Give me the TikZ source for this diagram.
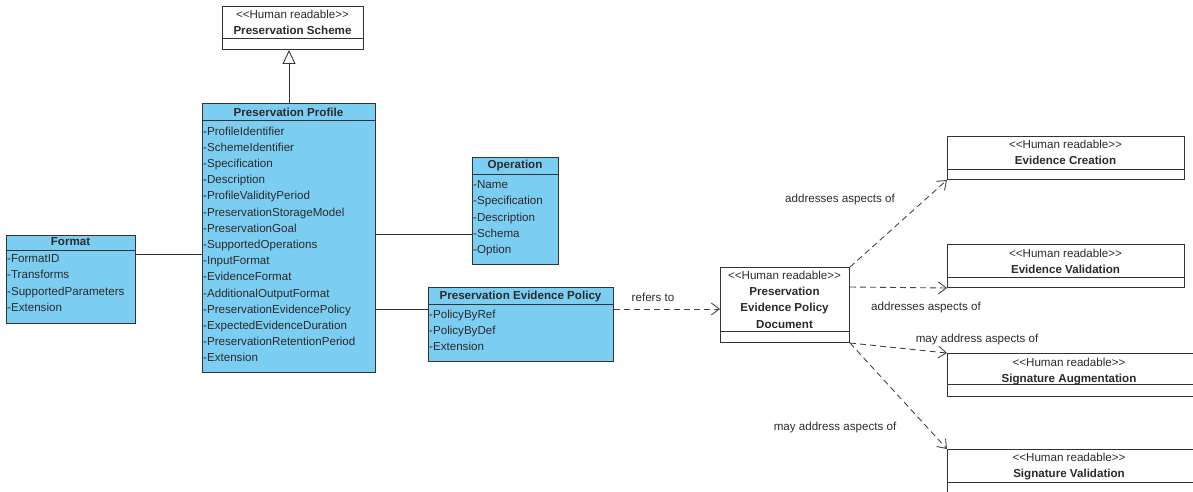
\documentclass[tikz,border=0pt]{standalone}
\usepackage{fontspec}
\setmainfont{Liberation Sans}
\usepackage{xcolor}
\usepackage{tikz}
\usetikzlibrary{arrows.meta}
\definecolor{clsfill}{HTML}{7BCDF1}
\definecolor{edge}{HTML}{333333}
\definecolor{ink}{HTML}{2B2B2B}
\definecolor{dashc}{HTML}{444444}
\newcommand{\hrstereo}{<{}<Human readable>{}>}
\tikzset{
  cls/.style={draw=edge, fill=clsfill, line width=1pt, inner sep=0pt, anchor=north west},
  doc/.style={draw=edge, fill=white, line width=1pt, inner sep=0pt, anchor=north west},
  compline/.style={draw=edge, line width=1pt},
  hdr/.style={text=ink, font=\fontsize{11.6}{13}\selectfont\bfseries, inner sep=0pt},
  attrs/.style={text=ink, font=\fontsize{11.6}{16.2}\selectfont, align=left, inner sep=0pt, anchor=north west},
  stereo/.style={text=ink, font=\fontsize{11.6}{16.3}\selectfont, align=center, inner sep=0pt, anchor=north},
  assoc/.style={draw=edge, line width=0.9pt},
  gen/.style={draw=edge, line width=0.9pt, -{Triangle[open, length=14pt, width=13pt]}},
  dep/.style={draw=dashc, line width=0.9pt, dash pattern=on 6pt off 4pt, -{Straight Barb[length=8pt, width=12pt]}},
  lbl/.style={text=ink, font=\fontsize{11.6}{13}\selectfont, inner sep=0pt},
}

\begin{document}
\begin{tikzpicture}[x=1pt, y=-1pt]
  \useasboundingbox (0,0) rectangle (1193,492);
  \clip (0,0) rectangle (1193,492);

  % scheme
  \node[doc, minimum width=141pt, minimum height=43pt] (scheme) at (222,6) {};
  \draw[compline] (scheme.west |- 0,39) -- (scheme.east |- 0,39);
  \node[stereo] (schemetxt) at (292.5,10) {\hrstereo\\\textbf{Preservation Scheme}};

  % profile
  \node[cls, minimum width=173pt, minimum height=269pt] (profile) at (202,103) {};
  \draw[compline] (profile.west |- 0,121) -- (profile.east |- 0,121);
  \node[hdr] (profilehdr) at (288.5,112) {Preservation Profile};
  \node[attrs] (profileattr) at (203,126.5) {-ProfileIdentifier\\-SchemeIdentifier\\-Specification\\-Description\\-ProfileValidityPeriod\\-PreservationStorageModel\\-PreservationGoal\\-SupportedOperations\\-InputFormat\\-EvidenceFormat\\-AdditionalOutputFormat\\-PreservationEvidencePolicy\\-ExpectedEvidenceDuration\\-PreservationRetentionPeriod\\-Extension};

  % format
  \node[cls, minimum width=129pt, minimum height=88pt] (format) at (6,235) {};
  \draw[compline] (format.west |- 0,250) -- (format.east |- 0,250);
  \node[hdr] (formathdr) at (70.5,242) {Format};
  \node[attrs] (formatattr) at (7,254.5) {-FormatID\\-Transforms\\-SupportedParameters\\-Extension};

  % operation
  \node[cls, minimum width=86pt, minimum height=107pt] (operation) at (472,157) {};
  \draw[compline] (operation.west |- 0,174) -- (operation.east |- 0,174);
  \node[hdr] (operationhdr) at (515,166) {Operation};
  \node[attrs] (operationattr) at (473,180.5) {-Name\\-Specification\\-Description\\-Schema\\-Option};

  % evidence policy
  \node[cls, minimum width=185pt, minimum height=74pt] (pep) at (428,287) {};
  \draw[compline] (pep.west |- 0,304) -- (pep.east |- 0,304);
  \node[hdr] (pephdr) at (520.5,296) {Preservation Evidence Policy};
  \node[attrs] (pepattr) at (429,309.5) {-PolicyByRef\\-PolicyByDef\\-Extension};

  % policy document
  \node[doc, minimum width=129pt, minimum height=75pt] (pepd) at (720,267) {};
  \draw[compline] (pepd.west |- 0,331) -- (pepd.east |- 0,331);
  \node[stereo] (pepdtxt) at (784.5,270.5) {\hrstereo\\\textbf{Preservation}\\\textbf{Evidence Policy}\\\textbf{Document}};

  % aspects
  \node[doc, minimum width=237pt, minimum height=43pt] (ec) at (947,136) {};
  \draw[compline] (ec.west |- 0,169) -- (ec.east |- 0,169);
  \node[stereo] (ectxt) at (1065.5,139.5) {\hrstereo\\\textbf{Evidence Creation}};

  \node[doc, minimum width=237pt, minimum height=43pt] (ev) at (947,244) {};
  \draw[compline] (ev.west |- 0,277) -- (ev.east |- 0,277);
  \node[stereo] (evtxt) at (1065.5,248.5) {\hrstereo\\\textbf{Evidence Validation}};

  \node[doc, minimum width=270pt, minimum height=43pt] (sa) at (947,353) {};
  \draw[compline] (sa.west |- 0,384) -- (sa.east |- 0,384);
  \node[stereo] (satxt) at (1069,357.5) {\hrstereo\\\textbf{Signature Augmentation}};

  \node[doc, minimum width=270pt, minimum height=60pt] (sv) at (947,449) {};
  \draw[compline] (sv.west |- 0,482) -- (sv.east |- 0,482);
  \node[stereo] (svtxt) at (1069,452.5) {\hrstereo\\\textbf{Signature Validation}};

  % links
  \draw[gen] (profile.north) -- (profile.north |- scheme.south);
  \draw[assoc] (format.east |- 0,254) -- (profile.west |- 0,254);
  \draw[assoc] (profile.east |- 0,234) -- (operation.west |- 0,234);
  \draw[assoc] (profile.east |- 0,309) -- (pep.west |- 0,309);

  \draw[dep] (pep.east |- 0,309) -- (pepd.west |- 0,309);
  \draw[dep] (pepd.north east) -- (ec.south west);
  \draw[dep] (pepd.east |- 0,287) -- (ev.south west);
  \draw[dep] (pepd.south east) -- (sa.north west);
  \draw[dep] (pepd.south east) -- (sv.north west);

  \node[lbl] (refers) at (653,297) {refers to};
  \node[lbl] (ecl) at (840,199) {addresses aspects of};
  \node[lbl] (evl) at (926,307) {addresses aspects of};
  \node[lbl] (sal) at (977,339) {may address aspects of};
  \node[lbl] (svl) at (835,427) {may address aspects of};
\end{tikzpicture}
\end{document}
